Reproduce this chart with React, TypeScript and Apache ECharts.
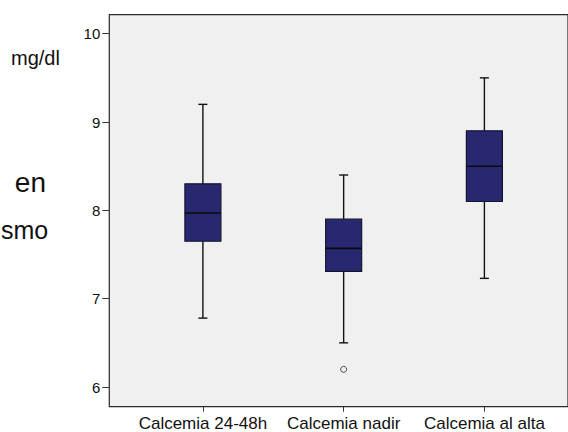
import React, { useEffect, useRef } from "react";
import * as echarts from "echarts";

const categories = ["Calcemia 24-48h", "Calcemia nadir", "Calcemia al alta"];
const whiskerLow = [6.78, 6.5, 7.23];
const q1 = [7.65, 7.31, 8.1];
const median = [7.97, 7.57, 8.5];
const q3 = [8.3, 7.9, 8.9];
const whiskerHigh = [9.2, 8.4, 9.5];
const outlierCategory = [1];
const outlierValue = [6.2];
const yTicks = [6, 7, 8, 9, 10];

const FONT = "'Liberation Sans', Arial, sans-serif";

export default function App() {
  const ref = useRef<HTMLDivElement>(null);
  useEffect(() => {
    const chart = echarts.init(ref.current!, null, { renderer: "svg" });
    const boxData = categories.map((_, i) => [
      i + 1,
      whiskerLow[i],
      q1[i],
      median[i],
      q3[i],
      whiskerHigh[i],
    ]);
    const outlierData = outlierCategory.map((c, i) => [c + 1, outlierValue[i]]);
    const option: any = {
      animation: false,
      grid: {
        left: 109.3,
        top: 14.7,
        bottom: 25.3,
        right: -2,
        show: true,
        backgroundColor: "#f0f0f0",
        borderColor: "#2a2a2a",
        borderWidth: 1.2,
      },
      xAxis: {
        type: "value",
        min: 0.335,
        max: 3.594,
        splitLine: { show: false },
        axisLine: { show: false },
        axisTick: {
          show: true,
          customValues: [1, 2, 3],
          length: 5,
          lineStyle: { color: "#333", width: 1 },
        },
        axisLabel: {
          customValues: [1, 2, 3],
          formatter: (v: number) => categories[Math.round(v) - 1],
          margin: 8,
          fontSize: 17,
          fontFamily: FONT,
          color: "#111",
        },
      },
      yAxis: {
        type: "value",
        min: 5.777,
        max: 10.215,
        splitLine: { show: false },
        axisLine: { show: false },
        axisTick: {
          show: true,
          customValues: yTicks,
          length: 7,
          lineStyle: { color: "#333", width: 1 },
        },
        axisLabel: {
          customValues: yTicks,
          margin: 9,
          fontSize: 15,
          fontFamily: FONT,
          color: "#111",
        },
      },
      graphic: [
        {
          type: "text",
          left: 11,
          top: 48,
          style: { text: "mg/dl", fontSize: 20, fontFamily: FONT, fill: "#111" },
        },
        {
          type: "text",
          x: 46,
          y: 168,
          style: {
            text: "en",
            fontSize: 28,
            fontFamily: FONT,
            fill: "#111",
            align: "right",
            verticalAlign: "alphabetic",
          },
        },
        {
          type: "text",
          x: 1,
          y: 217,
          style: {
            text: "smo",
            fontSize: 25,
            fontFamily: FONT,
            fill: "#111",
            align: "left",
            verticalAlign: "alphabetic",
          },
        },
      ],
      series: [
        {
          type: "custom",
          data: boxData,
          renderItem: (params: any, api: any) => {
            const x = api.value(0);
            const pLow = api.coord([x, api.value(1)]);
            const pQ1 = api.coord([x, api.value(2)]);
            const pMed = api.coord([x, api.value(3)]);
            const pQ3 = api.coord([x, api.value(4)]);
            const pHigh = api.coord([x, api.value(5)]);
            const cx = pMed[0];
            const hw = 18;
            const cap = 4.5;
            const lineStyle = { stroke: "#111", lineWidth: 1.4 };
            return {
              type: "group",
              children: [
                { type: "line", shape: { x1: cx, y1: pHigh[1], x2: cx, y2: pQ3[1] }, style: lineStyle },
                { type: "line", shape: { x1: cx, y1: pQ1[1], x2: cx, y2: pLow[1] }, style: lineStyle },
                { type: "line", shape: { x1: cx - cap, y1: pHigh[1], x2: cx + cap, y2: pHigh[1] }, style: lineStyle },
                { type: "line", shape: { x1: cx - cap, y1: pLow[1], x2: cx + cap, y2: pLow[1] }, style: lineStyle },
                {
                  type: "rect",
                  shape: { x: cx - hw, y: pQ3[1], width: hw * 2, height: pQ1[1] - pQ3[1] },
                  style: { fill: "#282870", stroke: "#151530", lineWidth: 1.2 },
                },
                {
                  type: "line",
                  shape: { x1: cx - hw, y1: pMed[1], x2: cx + hw, y2: pMed[1] },
                  style: { stroke: "#0a0a0a", lineWidth: 1.6 },
                },
              ],
            };
          },
        },
        {
          type: "scatter",
          data: outlierData,
          symbol: "circle",
          symbolSize: 6,
          itemStyle: { color: "#f0f0f0", borderColor: "#222", borderWidth: 1 },
        },
      ],
    };
    chart.setOption(option);
    return () => chart.dispose();
  }, []);
  return (
    <div
      ref={ref}
      style={{ position: "fixed", left: 0, top: 0, width: 568, height: 432, background: "#fff" }}
    />
  );
}
